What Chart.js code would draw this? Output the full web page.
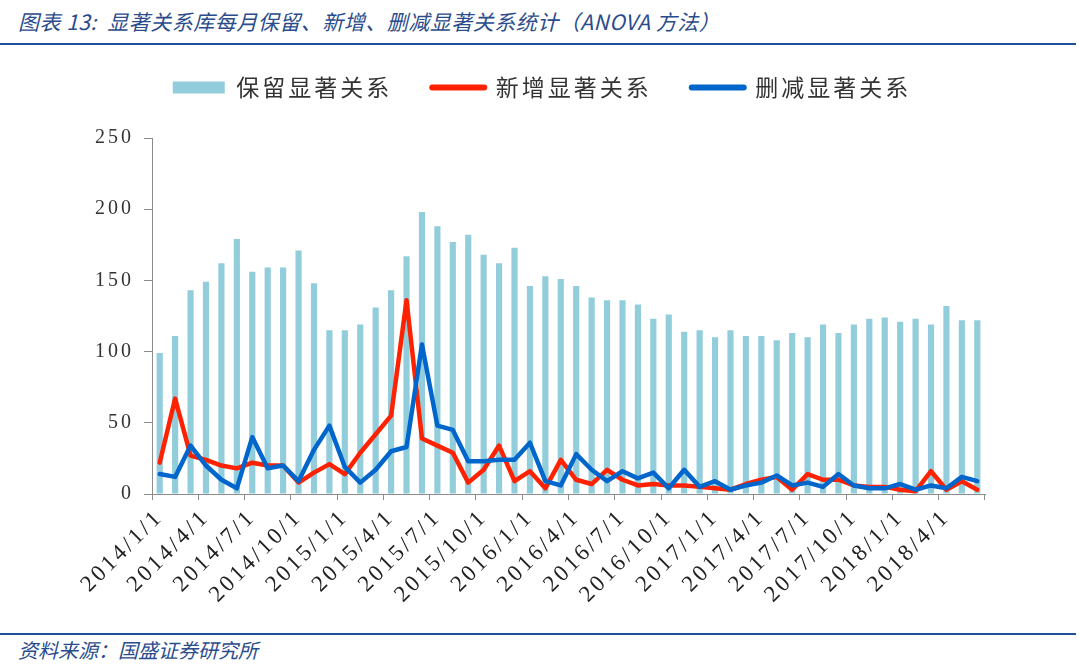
<!DOCTYPE html>
<html>
<head>
<meta charset="utf-8">
<script src="https://cdn.jsdelivr.net/npm/chart.js@4.4.0/dist/chart.umd.min.js"></script>
<style>
html,body{margin:0;padding:0;background:#fff;width:1080px;height:664px;overflow:hidden;position:relative;font-family:"Noto Sans CJK SC",sans-serif;}
#title{position:absolute;left:18px;top:6px;font-size:21px;font-style:italic;color:#2B4C8C;white-space:nowrap;letter-spacing:0.5px;}
#tline{position:absolute;left:0;top:43px;width:1076px;height:2px;background:#1F4E9A;}
#wrap{position:absolute;left:0;top:36px;width:1080px;height:592px;}
#bline{position:absolute;left:0;top:633px;width:1076px;height:2px;background:#1F4E9A;}
#src{position:absolute;left:18px;top:635px;font-size:20px;font-style:italic;color:#2B4C8C;white-space:nowrap;}
</style>
</head>
<body>
<div id="title">图表 13:&nbsp; 显著关系库每月保留、新增、删减显著关系统计（ANOVA 方法）</div>
<div id="tline"></div>
<div id="wrap"><canvas id="c" width="1080" height="592"></canvas></div>
<div id="bline"></div>
<div id="src">资料来源：国盛证券研究所</div>
<script>
const months = [
  '2014/1/1','2014/2/1','2014/3/1','2014/4/1','2014/5/1','2014/6/1','2014/7/1','2014/8/1','2014/9/1','2014/10/1','2014/11/1','2014/12/1',
  '2015/1/1','2015/2/1','2015/3/1','2015/4/1','2015/5/1','2015/6/1','2015/7/1','2015/8/1','2015/9/1','2015/10/1','2015/11/1','2015/12/1',
  '2016/1/1','2016/2/1','2016/3/1','2016/4/1','2016/5/1','2016/6/1','2016/7/1','2016/8/1','2016/9/1','2016/10/1','2016/11/1','2016/12/1',
  '2017/1/1','2017/2/1','2017/3/1','2017/4/1','2017/5/1','2017/6/1','2017/7/1','2017/8/1','2017/9/1','2017/10/1','2017/11/1','2017/12/1',
  '2018/1/1','2018/2/1','2018/3/1','2018/4/1','2018/5/1','2018/6/1'
];
const retained = [99,111,143,149,162,179,156,159,159,171,148,115,
  115,119,131,143,167,198,188,177,182,168,162,173,
  146,153,151,146,138,136,136,133,123,126,114,115,
  110,115,111,111,108,113,110,119,113,119,123,124,
  121,123,119,132,122,122];
const added = [22,67,27,24,20,18,22,20,20,8,15,21,
  14,29,42,55,136,39,34,29,8,17,34,9,
  16,4,24,10,7,17,10,6,7,6,6,5,
  4,3,7,10,12,3,14,10,10,6,5,5,
  3,2,16,3,9,3];
const removed = [14,12,34,20,10,4,40,18,20,9,31,48,
  19,8,17,30,33,105,48,45,23,23,24,24,
  36,9,6,28,17,9,16,11,15,4,17,5,
  9,3,6,8,13,6,8,5,14,6,4,4,
  7,3,6,4,12,9];
const seriesNames = ['保留显著关系','新增显著关系','删减显著关系'];
const seriesColors = ['#92CDDC','#FF2200','#0066CC'];
const yMin = 0, yMax = 250, yStep = 50;
const labelEvery = 3;

const SP = '3px';
const spacingPlugin = {
  id: 'spacing',
  beforeUpdate(c){ c.ctx.letterSpacing = SP; },
  beforeLayout(c){ c.ctx.letterSpacing = SP; },
  beforeDraw(c){ c.ctx.letterSpacing = SP; },
  afterInit(c){
    const lg = c.legend;
    if (lg && !lg._patched) {
      const f = lg.fit;
      lg.fit = function(){ f.call(this); this.height += 29; };
      lg._patched = true;
    }
  },
  afterLayout(c){
    const lg = c.legend;
    if (lg) { lg.left = 0; lg.right = 1084; }
  }
};

const axisColor = '#8c8c8c';
const yFont = {family: '"Liberation Serif", "DejaVu Serif", serif', size: 20};
const xFont = {family: '"Liberation Serif", "DejaVu Serif", serif', size: 23};

new Chart(document.getElementById('c'), {
  data: {
    labels: months,
    datasets: [
      {type:'bar', label: seriesNames[0], data: retained, backgroundColor: seriesColors[0],
       categoryPercentage: 1.0, barPercentage: 0.4, order: 3},
      {type:'line', label: seriesNames[1], data: added, borderColor: seriesColors[1], backgroundColor: seriesColors[1],
       borderWidth: 4.5, pointRadius: 0, tension: 0, order: 2, borderJoinStyle: 'round', borderCapStyle: 'round'},
      {type:'line', label: seriesNames[2], data: removed, borderColor: seriesColors[2], backgroundColor: seriesColors[2],
       borderWidth: 4.5, pointRadius: 0, tension: 0, order: 1, borderJoinStyle: 'round', borderCapStyle: 'round'}
    ]
  },
  options: {
    responsive: false,
    animation: false,
    devicePixelRatio: 1,
    layout: {padding: {top: 0, left: 0, right: 95, bottom: 0}},
    plugins: {
      tooltip: {enabled: false},
      legend: {
        display: true,
        position: 'top',
        labels: {
          font: {family: '"Noto Sans CJK SC", sans-serif', size: 23},
          color: '#333',
          usePointStyle: true,
          pointStyleWidth: 52,
          boxHeight: 12,
          padding: 40,
          sort: (a, b) => a.datasetIndex - b.datasetIndex,
          generateLabels(chart) {
            const items = Chart.defaults.plugins.legend.labels.generateLabels(chart);
            items.forEach(it => {
              const i = it.datasetIndex;
              if (i === 0) { it.pointStyle = 'rect'; it.lineWidth = 0; it.fillStyle = seriesColors[0]; }
              else { it.pointStyle = 'line'; it.lineWidth = 6; it.strokeStyle = seriesColors[i]; it.lineCap = 'round'; }
            });
            return items;
          }
        }
      }
    },
    scales: {
      x: {
        offset: true,
        grid: {
          offset: true,
          drawOnChartArea: false,
          drawTicks: true,
          tickLength: 6,
          color: (ctx) => (ctx.index === undefined || ctx.index % labelEvery === 0) ? axisColor : 'rgba(0,0,0,0)'
        },
        border: {display: true, color: axisColor, width: 1},
        ticks: {
          autoSkip: false,
          maxRotation: 45,
          minRotation: 45,
          padding: 4,
          color: '#222',
          font: xFont,
          callback: function(v, i) { return i % labelEvery === 0 ? months[i] : ''; }
        },
        afterFit(scale) { scale.height = 134; }
      },
      y: {
        min: yMin, max: yMax,
        grid: {drawOnChartArea: false, drawTicks: true, tickLength: 8, color: axisColor},
        border: {display: true, color: axisColor, width: 1},
        ticks: {stepSize: yStep, padding: 10, color: '#333', font: yFont},
        afterFit(scale) { scale.width = 152; }
      }
    }
  },
  plugins: [spacingPlugin]
});
</script>
</body>
</html>
